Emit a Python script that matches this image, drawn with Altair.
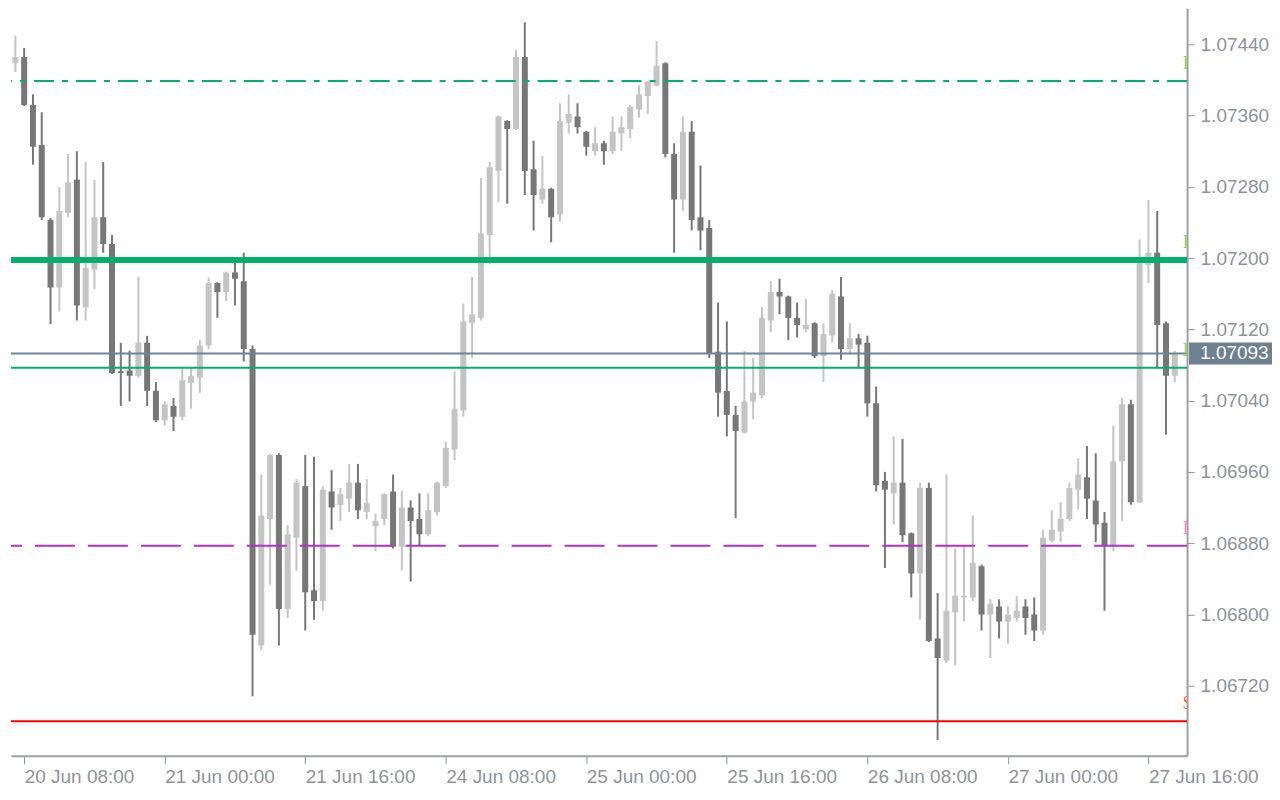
import altair as alt
import pandas as pd

# hourly EURUSD-like candles, 20 Jun 06:00 .. 27 Jun 19:00
opens = [1.07395, 1.07419, 1.07426, 1.07372, 1.07327, 1.07243, 1.07167, 1.07251, 1.07288, 1.07145,
         1.07187, 1.07246, 1.07216, 1.07073, 1.07074, 1.07068, 1.07105, 1.07051, 1.07018, 1.07034,
         1.07022, 1.07060, 1.07066, 1.07102, 1.07172, 1.07162, 1.07184, 1.07174, 1.07098, 1.06765,
         1.06907, 1.06979, 1.06806, 1.06886, 1.06944, 1.06827, 1.06815, 1.06938, 1.06923, 1.06930,
         1.06948, 1.06915, 1.06899, 1.06907, 1.06938, 1.06876, 1.06920, 1.06907, 1.06890, 1.06915,
         1.06944, 1.06985, 1.07029, 1.07127, 1.07133, 1.07226, 1.07298, 1.07354, 1.07345, 1.07426,
         1.07300, 1.07266, 1.07278, 1.07249, 1.07352, 1.07359, 1.07342, 1.07320, 1.07329, 1.07320,
         1.07340, 1.07345, 1.07367, 1.07382, 1.07394, 1.07419, 1.07317, 1.07266, 1.07342, 1.07246,
         1.07234, 1.07095, 1.07051, 1.07024, 1.07004, 1.07039, 1.07046, 1.07130, 1.07162, 1.07157,
         1.07133, 1.07120, 1.07127, 1.07090, 1.07113, 1.07157, 1.07098, 1.07110, 1.07105, 1.07037,
         1.06950, 1.06936, 1.06948, 1.06891, 1.06846, 1.06942, 1.06773, 1.06748, 1.06802, 1.06819,
         1.06819, 1.06854, 1.06800, 1.06809, 1.06792, 1.06796, 1.06809, 1.06800, 1.06782, 1.06883,
         1.06893, 1.06907, 1.06940, 1.06954, 1.06928, 1.06903, 1.06878, 1.06972, 1.07036, 1.06926,
         1.07192, 1.07206, 1.07127, 1.07068]
highs = [1.07425, 1.07450, 1.07436, 1.07384, 1.07364, 1.07245, 1.07280, 1.07317, 1.07320, 1.07308,
         1.07288, 1.07308, 1.07226, 1.07105, 1.07096, 1.07179, 1.07113, 1.07061, 1.07039, 1.07043,
         1.07078, 1.07078, 1.07108, 1.07178, 1.07173, 1.07185, 1.07199, 1.07206, 1.07102, 1.06957,
         1.06980, 1.06981, 1.06900, 1.06952, 1.06979, 1.06977, 1.06944, 1.06962, 1.06942, 1.06969,
         1.06969, 1.06952, 1.06913, 1.06936, 1.06957, 1.06939, 1.06928, 1.06936, 1.06936, 1.06949,
         1.06994, 1.07073, 1.07149, 1.07179, 1.07290, 1.07308, 1.07360, 1.07355, 1.07434, 1.07465,
         1.07332, 1.07315, 1.07279, 1.07374, 1.07384, 1.07374, 1.07343, 1.07347, 1.07332, 1.07359,
         1.07359, 1.07372, 1.07394, 1.07399, 1.07444, 1.07420, 1.07329, 1.07359, 1.07354, 1.07304,
         1.07243, 1.07150, 1.07129, 1.07034, 1.07096, 1.07088, 1.07145, 1.07174, 1.07177, 1.07158,
         1.07150, 1.07154, 1.07128, 1.07127, 1.07164, 1.07179, 1.07127, 1.07115, 1.07113, 1.07056,
         1.06960, 1.07000, 1.06997, 1.06892, 1.06948, 1.06948, 1.06824, 1.06957, 1.06874, 1.06878,
         1.06911, 1.06856, 1.06817, 1.06817, 1.06809, 1.06821, 1.06817, 1.06819, 1.06895, 1.06917,
         1.06926, 1.06948, 1.06975, 1.06989, 1.06981, 1.06915, 1.07012, 1.07043, 1.07041, 1.07221,
         1.07265, 1.07253, 1.07129, 1.07096]
lows = [1.07389, 1.07409, 1.07371, 1.07305, 1.07243, 1.07126, 1.07140, 1.07246, 1.07130, 1.07130,
        1.07165, 1.07206, 1.07070, 1.07034, 1.07039, 1.07066, 1.07034, 1.07016, 1.07012, 1.07006,
        1.07018, 1.07031, 1.07049, 1.07098, 1.07133, 1.07152, 1.07147, 1.07084, 1.06708, 1.06760,
        1.06833, 1.06765, 1.06796, 1.06849, 1.06782, 1.06794, 1.06804, 1.06895, 1.06905, 1.06915,
        1.06907, 1.06907, 1.06871, 1.06900, 1.06874, 1.06849, 1.06837, 1.06878, 1.06888, 1.06911,
        1.06942, 1.06973, 1.07022, 1.07088, 1.07130, 1.07193, 1.07263, 1.07261, 1.07344, 1.07271,
        1.07231, 1.07261, 1.07218, 1.07241, 1.07340, 1.07340, 1.07315, 1.07315, 1.07305, 1.07317,
        1.07320, 1.07335, 1.07358, 1.07362, 1.07393, 1.07313, 1.07206, 1.07253, 1.07231, 1.07209,
        1.07088, 1.07022, 1.07000, 1.06908, 1.07003, 1.07019, 1.07043, 1.07117, 1.07137, 1.07108,
        1.07111, 1.07117, 1.07088, 1.07061, 1.07105, 1.07086, 1.07093, 1.07076, 1.07022, 1.06938,
        1.06852, 1.06901, 1.06881, 1.06819, 1.06794, 1.06769, 1.06659, 1.06745, 1.06743, 1.06792,
        1.06815, 1.06782, 1.06751, 1.06773, 1.06767, 1.06792, 1.06777, 1.06770, 1.06777, 1.06881,
        1.06881, 1.06905, 1.06918, 1.06907, 1.06881, 1.06804, 1.06871, 1.06905, 1.06923, 1.06925,
        1.07172, 1.07076, 1.07002, 1.07061]
closes = [1.07421, 1.07426, 1.07372, 1.07325, 1.07246, 1.07167, 1.07253, 1.07285, 1.07147, 1.07189,
          1.07246, 1.07216, 1.07071, 1.07071, 1.07068, 1.07105, 1.07051, 1.07018, 1.07036, 1.07022,
          1.07063, 1.07068, 1.07102, 1.07172, 1.07162, 1.07184, 1.07177, 1.07098, 1.06777, 1.06911,
          1.06979, 1.06806, 1.06890, 1.06948, 1.06825, 1.06815, 1.06940, 1.06920, 1.06935, 1.06948,
          1.06917, 1.06925, 1.06905, 1.06935, 1.06876, 1.06920, 1.06905, 1.06890, 1.06917, 1.06948,
          1.06987, 1.07031, 1.07129, 1.07137, 1.07228, 1.07302, 1.07359, 1.07345, 1.07426, 1.07298,
          1.07271, 1.07278, 1.07246, 1.07354, 1.07362, 1.07347, 1.07325, 1.07329, 1.07320, 1.07342,
          1.07347, 1.07370, 1.07384, 1.07398, 1.07416, 1.07317, 1.07266, 1.07342, 1.07243, 1.07231,
          1.07093, 1.07049, 1.07024, 1.07006, 1.07039, 1.07049, 1.07133, 1.07162, 1.07157, 1.07133,
          1.07125, 1.07125, 1.07090, 1.07115, 1.07160, 1.07098, 1.07110, 1.07103, 1.07037, 1.06945,
          1.06940, 1.06948, 1.06889, 1.06846, 1.06942, 1.06770, 1.06751, 1.06804, 1.06821, 1.06821,
          1.06858, 1.06800, 1.06812, 1.06792, 1.06800, 1.06804, 1.06796, 1.06782, 1.06886, 1.06895,
          1.06907, 1.06942, 1.06957, 1.06930, 1.06901, 1.06878, 1.06972, 1.07036, 1.06926, 1.07197,
          1.07206, 1.07125, 1.07068, 1.07093]

tick_idx = [2, 18, 34, 50, 66, 82, 98, 114, 130]
tick_labels = ["20 Jun 08:00", "21 Jun 00:00", "21 Jun 16:00", "24 Jun 08:00", "25 Jun 00:00",
               "25 Jun 16:00", "26 Jun 08:00", "27 Jun 00:00", "27 Jun 16:00"]
y_ticks = [1.0672, 1.0680, 1.0688, 1.0696, 1.0704, 1.0712, 1.0720, 1.0728, 1.0736, 1.0744]

level_dashdot = 1.07399
level_thick = 1.07198
level_thin = 1.07077
level_purple = 1.06877
level_red = 1.06680
current_price = 1.07093

df = pd.DataFrame({
    "idx": list(range(len(opens))),
    "open": opens, "high": highs, "low": lows, "close": closes,
})
df["dir"] = ["bull" if c >= o else "bear" for o, c in zip(opens, closes)]

AXC = "#8e939a"
FONT = "Liberation Sans"
xs = alt.Scale(domain=[0.5, 134.4], nice=False, zero=False, padding=0)
ys = alt.Scale(domain=[1.066413, 1.074806], nice=False, zero=False, padding=0)
cs = alt.Scale(domain=["bull", "bear"], range=["#c4c4c4", "#777777"])

label_js = "[" + ",".join("'%s'" % t for t in tick_labels) + "]"
x_axis = alt.Axis(values=tick_idx, labelExpr=label_js + "[round((datum.value-2)/16)]",
                  orient="bottom", grid=False, title=None, tickSize=8, tickWidth=1,
                  tickColor=AXC, domainColor="#9ca0a6", domainWidth=2,
                  labelAlign="left", labelBaseline="top", labelPadding=4,
                  labelFont=FONT, labelFontSize=19, labelColor=AXC,
                  labelOverlap=False, labelFlush=False)
y_axis = alt.Axis(values=y_ticks, format=".5f", orient="right", grid=False, title=None,
                  tickSize=7, tickWidth=1, tickColor=AXC, domainColor="#9ca0a6", domainWidth=2,
                  labelPadding=6, labelFont=FONT, labelFontSize=19, labelColor=AXC,
                  labelOverlap=False, labelFlush=False, labelBaseline="middle")

base = alt.Chart(df).encode(x=alt.X("idx:Q", scale=xs, axis=x_axis))
wicks = base.mark_rule(strokeWidth=2, clip=True).encode(
    y=alt.Y("low:Q", scale=ys, axis=y_axis), y2="high:Q",
    color=alt.Color("dir:N", scale=cs, legend=None))
bodies = base.mark_bar(size=6, clip=True).encode(
    y=alt.Y("open:Q", scale=ys, axis=y_axis), y2="close:Q",
    color=alt.Color("dir:N", scale=cs, legend=None))


def hline(price, color, width, dash=None):
    kw = dict(color=color, strokeWidth=width)
    if dash:
        kw["strokeDash"] = dash
    return alt.Chart(pd.DataFrame({"p": [price]})).mark_rule(**kw).encode(
        y=alt.Y("p:Q", scale=ys, axis=y_axis))


def marker(price, text, color):
    return alt.Chart(pd.DataFrame({"p": [price], "t": [text]})).mark_text(
        align="left", baseline="bottom", dy=-8, fontSize=19, font="Liberation Serif",
        color=color, clip=True).encode(
        x=alt.value(1172.5), y=alt.Y("p:Q", scale=ys, axis=y_axis), text="t:N")


lines = [
    hline(level_dashdot, "#00b06c", 2, [20, 8, 6, 8]),
    hline(level_thick, "#00b06c", 6),
    hline(current_price, "#6f8596", 2),
    hline(level_thin, "#00b06c", 2),
    hline(level_purple, "#b030d0", 2, [40, 13]),
    hline(level_red, "#ff0000", 2),
]
markers = [
    marker(level_dashdot, "I", "#9acd5a"),
    marker(level_thick, "I", "#9acd5a"),
    marker(level_thin, "I", "#9acd5a"),
    marker(level_purple, "I", "#ff88cc"),
    marker(level_red, "S", "#ff6a3a"),
]

cur = pd.DataFrame({"p": [current_price], "t": ["%.5f" % current_price]})
cur_box = alt.Chart(cur).transform_calculate(
    lo="datum.p - 0.000123", hi="datum.p + 0.000123"
).mark_rect(color="#6e8191").encode(
    x=alt.value(1179), x2=alt.value(1262),
    y=alt.Y("lo:Q", scale=ys, axis=y_axis), y2="hi:Q")
cur_text = alt.Chart(cur).mark_text(
    align="left", baseline="middle", font=FONT, fontSize=19, color="white").encode(
    x=alt.value(1190), y=alt.Y("p:Q", scale=ys, axis=y_axis), text="t:N")

chart = alt.layer(wicks, bodies, *lines, *markers, cur_box, cur_text).properties(
    width=1177, height=748, padding=0, background="white"
).configure_view(stroke=None)

chart.save("out.html", embed_options={"renderer": "svg", "actions": False})
